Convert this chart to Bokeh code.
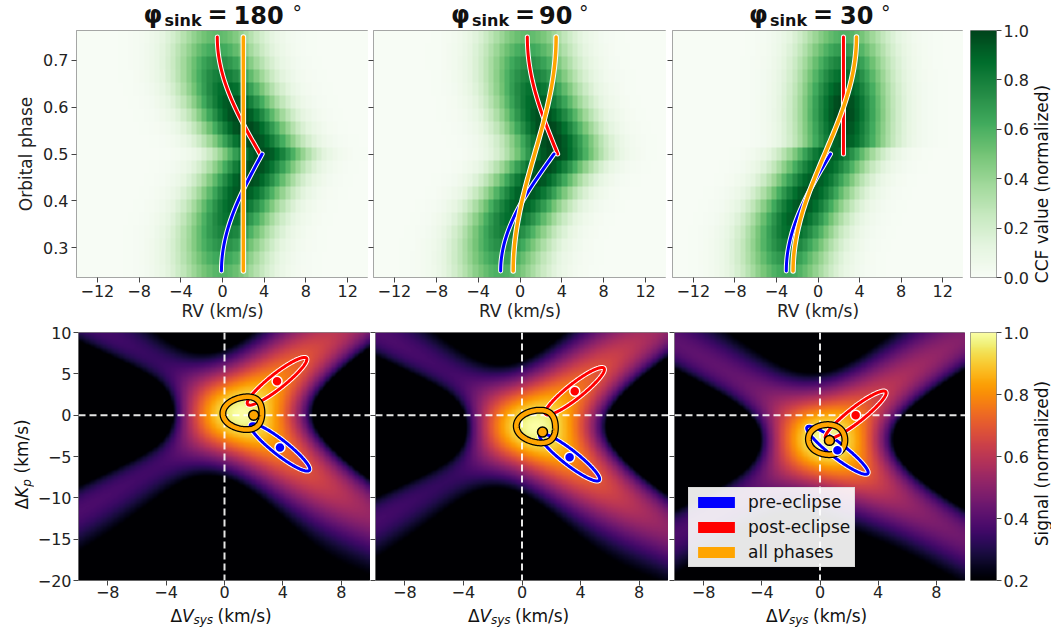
import numpy as np
import contourpy
from bokeh.plotting import figure
from bokeh.layouts import row, column
from bokeh.models import (FixedTicker, CustomJSTickFormatter, LinearColorMapper,
                          Label, Legend, LegendItem, ColumnDataSource, Range1d, Span)
from bokeh.palettes import Inferno256, Greens256
from bokeh.embed import file_html
from bokeh.resources import INLINE

FONT = "DejaVu Sans"

# ---------------- data ----------------
sink_angles = ["180", "90", "30"]
phases = [0.250, 0.278, 0.306, 0.333, 0.361, 0.389, 0.417, 0.444, 0.472, 0.500,
          0.528, 0.556, 0.583, 0.611, 0.639, 0.667, 0.694, 0.722, 0.750]
# best fits (dVsys, dKp) per panel
pre_dv = [3.8, 3.25, 1.2]
pre_dk = [-3.9, -5.1, -4.25]
post_dv = [3.6, 3.6, 2.45]
post_dk = [4.1, 2.9, 0.0]
all_dv = [2.0, 1.4, 0.65]
all_dk = [0.0, -2.05, -3.05]
# CCF row strength per phase
ccf_amp = [
    [0.58, 0.65, 0.73, 0.80, 0.86, 0.91, 0.95, 0.98, 0.98, 0.97, 0.98, 1.00, 0.99, 0.95, 0.89, 0.82, 0.74, 0.64, 0.55],
    [0.60, 0.67, 0.75, 0.82, 0.88, 0.92, 0.95, 0.97, 0.98, 0.99, 1.00, 1.00, 0.97, 0.92, 0.87, 0.80, 0.73, 0.64, 0.55],
    [0.64, 0.72, 0.81, 0.88, 0.93, 0.95, 0.95, 0.93, 0.92, 0.92, 0.94, 0.97, 1.00, 0.99, 0.94, 0.87, 0.79, 0.69, 0.59],
]
ccf_sigma = 3.0          # CCF line width (km/s)
wing_sigma = 9.0         # width of the subtracted broad continuum (km/s)
rv_step = 0.5
map_gamma = 0.5
level_all = 0.92
level_sub = 0.965

top_xticks = [-12, -8, -4, 0, 4, 8, 12]
top_yticks = [0.3, 0.4, 0.5, 0.6, 0.7]
bot_xticks = [-8, -4, 0, 4, 8]
bot_yticks = [-20, -15, -10, -5, 0, 5, 10]
ccf_ticks = [0.0, 0.2, 0.4, 0.6, 0.8, 1.0]
sig_ticks = [0.2, 0.4, 0.6, 0.8, 1.0]

# ---------------- layout geometry (pixels) ----------------
LEFT_W = 963
FW = [292, 293, 291]
BL_TOP = [76, 5, 6]
BL_BOT0 = 42
YLAB_W = 34
TITLE_H, XLAB_H = 30, 23
TOP_H, BOT_H = 247, 248
TOP_BB, BOT_BT, BOT_BB = 48, 7, 24
CB_L, CB_W, CB_R, CBLAB_W = 5, 26, 36, 21
CENTERS = [222.0, 519.5, 817.5]
MID = 0.346   # (ascent - descent) / 2 for DejaVu Sans, in em

INT_FMT = "return (tick < 0 ? '\u2212' : '') + Math.abs(tick).toFixed(0);"
DEC_FMT = "return (tick < 0 ? '\u2212' : '') + Math.abs(tick).toFixed(1);"
NO_FMT = "return '';"

ph = np.array(phases)
s = np.sin(2 * np.pi * ph)
rv = np.arange(-14 + rv_step / 2, 14, rv_step)
dvg = np.linspace(-10, 10, 241)
dkg = np.linspace(-20, 10, 301)

greens = list(Greens256)[::-1]
ccf_mapper = LinearColorMapper(palette=greens, low=0.0, high=1.0)
sig_mapper = LinearColorMapper(palette=list(Inferno256), low=0.2, high=1.0)

BLUE, RED, ORANGE = "#0000ff", "#ff0000", "#ffa500"


def make_fig(xr, yr, fw, fh, bl, br, bt, bb, **kw):
    p = figure(x_range=Range1d(*xr), y_range=Range1d(*yr), frame_width=fw, frame_height=fh,
               min_border_left=bl, min_border_right=br, min_border_top=bt, min_border_bottom=bb,
               toolbar_location=None, output_backend="svg", tools="", **kw)
    p.grid.visible = False
    p.outline_line_color = "#8a8a8a"
    p.outline_line_width = 1
    p.border_fill_color = "white"
    return p


def strip(w, h):
    p = figure(x_range=Range1d(0, w), y_range=Range1d(0, h), frame_width=w, frame_height=h,
               min_border=0, min_border_left=0, min_border_right=0, min_border_top=0,
               min_border_bottom=0, x_axis_location=None, y_axis_location=None,
               toolbar_location=None, output_backend="svg", tools="")
    p.grid.visible = False
    p.outline_line_color = None
    p.border_fill_color = "white"
    p.background_fill_color = "white"
    return p


def style_axis(ax, ticks, code, standoff=2):
    ax.ticker = FixedTicker(ticks=ticks)
    ax.formatter = CustomJSTickFormatter(code=code)
    ax.major_tick_out = 5
    ax.major_tick_in = 0
    ax.minor_tick_out = 0
    ax.minor_tick_in = 0
    ax.axis_line_color = None
    ax.major_tick_line_color = "#444444"
    ax.major_label_text_font = FONT
    ax.major_label_text_font_size = "16px"
    ax.major_label_text_color = "#222222"
    ax.major_label_standoff = standoff
    ax.axis_label_text_font = FONT
    ax.axis_label_text_font_size = "17px"
    ax.axis_label_text_font_style = "normal"
    ax.axis_label_text_color = "#222222"


def lab(p, x, y, text, size=17, style="normal", vertical=False, align="left"):
    """(x, y) is the start (or centre) of the text on its baseline, in strip pixels."""
    shift = MID * size
    if vertical:
        x, angle = x - shift, np.pi / 2
    else:
        y, angle = y + shift, 0.0
    p.add_layout(Label(x=x, y=y, text=text, text_font=FONT, text_font_size=f"{size}px",
                       text_font_style=style, text_color="#111111", angle=angle,
                       text_align=align, text_baseline="middle"))


def outlined_line(p, x, y, color, w, edge, ew):
    p.line(x, y, line_color=edge, line_width=ew, line_cap="round", line_join="round")
    p.line(x, y, line_color=color, line_width=w, line_cap="round", line_join="round")


def contour_lines(z, level):
    gen = contourpy.contour_generator(dvg, dkg, z)
    lines = gen.lines(level)
    return [l[:, 0].tolist() for l in lines], [l[:, 1].tolist() for l in lines]


# ---------------- title strip ----------------
title_strip = strip(LEFT_W, TITLE_H)
digit_x = [11, 19, 22]
deg_x = [70, 59, 63]
for k in range(3):
    c = CENTERS[k]
    off = 0 if k == 0 else 10
    lab(title_strip, c - 79 + off, 7, "\u03c6", 24, "bold")
    lab(title_strip, c - 58 + off, 4, "sink", 16, "bold")
    lab(title_strip, c - 15 + off, 7, "=", 24, "bold")
    lab(title_strip, c + digit_x[k], 7, sink_angles[k], 24, "bold")
    lab(title_strip, c + deg_x[k], 11, "\u00b0", 19, "normal")

# ---------------- x-label strip ----------------
xlab_strip = strip(LEFT_W, XLAB_H)
for k in range(3):
    c = CENTERS[k]
    lab(xlab_strip, c - 52, 6, "\u0394")
    lab(xlab_strip, c - 40.5, 6, "V", style="italic")
    lab(xlab_strip, c - 29, 3.5, "sys", 12, "italic")
    lab(xlab_strip, c - 5, 6, "(km/s)")

# ---------------- y-label strip (bottom row) ----------------
ylab_strip = strip(YLAB_W, BOT_BT + BOT_H + BOT_BB)
yb = BOT_BB
lab(ylab_strip, 27, yb + 78, "\u0394", vertical=True)
lab(ylab_strip, 27, yb + 89.6, "K", style="italic", vertical=True)
lab(ylab_strip, 31, yb + 100.8, "p", 12, "italic", vertical=True)
lab(ylab_strip, 27, yb + 114, "(km/s)", vertical=True)

top_figs, bot_figs = [], []
beta = ccf_sigma / wing_sigma
for k in range(3):
    amp = np.array(ccf_amp[k])
    centre = np.where(ph <= 0.5, pre_dv[k] + pre_dk[k] * s, post_dv[k] + post_dk[k] * s)
    ccf = amp[:, None] * np.exp(-(rv[None, :] - centre[:, None]) ** 2 / (2 * ccf_sigma ** 2))
    ccf = ccf / ccf.max()

    # ---------- top: CCF vs phase ----------
    dph = phases[1] - phases[0]
    p = make_fig((-14, 14), (phases[0] - dph / 2, phases[-1] + dph / 2), FW[k], TOP_H,
                 BL_TOP[k], 0, 0, TOP_BB)
    img = np.repeat(np.repeat(ccf, 8, axis=0), 8, axis=1)
    r = p.image(image=[img], x=-14, y=phases[0] - dph / 2, dw=28, dh=phases[-1] - phases[0] + dph,
                color_mapper=ccf_mapper)
    r.level = "image"
    style_axis(p.xaxis[0], top_xticks, INT_FMT)
    p.xaxis[0].axis_label = "RV (km/s)"
    p.xaxis[0].axis_label_standoff = 1
    style_axis(p.yaxis[0], top_yticks, DEC_FMT if k == 0 else NO_FMT, 3 if k == 0 else 0)
    if k == 0:
        p.yaxis[0].axis_label = "Orbital phase"
        p.yaxis[0].axis_label_standoff = 4

    ph_pre = np.linspace(phases[0], 0.5, 60)
    ph_post = np.linspace(0.5, phases[-1], 60)
    ph_all = np.linspace(phases[0], phases[-1], 120)
    outlined_line(p, post_dv[k] + post_dk[k] * np.sin(2 * np.pi * ph_post), ph_post, RED, 3, "white", 5)
    outlined_line(p, pre_dv[k] + pre_dk[k] * np.sin(2 * np.pi * ph_pre), ph_pre, BLUE, 3, "white", 5)
    outlined_line(p, all_dv[k] + all_dk[k] * np.sin(2 * np.pi * ph_all), ph_all, ORANGE, 3.5, "white", 5.5)
    top_figs.append(p)

    # ---------- bottom: signal map ----------
    V = dvg[None, :, None] + dkg[:, None, None] * s[None, None, :]
    X = V - centre[None, None, :]
    G = np.exp(-X ** 2 / (2 * ccf_sigma ** 2))
    contrib = amp[None, None, :] * G
    hp = amp[None, None, :] * (G - beta * np.exp(-X ** 2 / (2 * wing_sigma ** 2)))
    S_hp = hp.sum(-1)
    S_hp = np.clip(S_hp / S_hp.max(), 0, 1)
    S_all = contrib.sum(-1)
    S_all = S_all / S_all.max()
    S_pre = contrib[:, :, ph < 0.5].sum(-1)
    S_pre = S_pre / S_pre.max()
    S_post = contrib[:, :, ph > 0.5].sum(-1)
    S_post = S_post / S_post.max()
    shown = S_hp ** map_gamma

    q = make_fig((-10, 10), (-20, 10), FW[k], BOT_H, BL_BOT0 if k == 0 else BL_TOP[k], 0,
                 BOT_BT, BOT_BB)
    r = q.image(image=[shown], x=-10, y=-20, dw=20, dh=30, color_mapper=sig_mapper)
    r.level = "image"
    style_axis(q.xaxis[0], bot_xticks, INT_FMT, 0)
    style_axis(q.yaxis[0], bot_yticks, INT_FMT if k == 0 else NO_FMT, 2 if k == 0 else 0)
    for dim in ("width", "height"):
        q.add_layout(Span(location=0, dimension=dim, line_color="white", line_alpha=0.9,
                          line_width=2, line_dash="7 4", level="underlay"))

    for z, col in ((S_pre, BLUE), (S_post, RED)):
        xs, ys = contour_lines(z, level_sub)
        q.multi_line(xs, ys, line_color="white", line_width=5)
        q.multi_line(xs, ys, line_color=col, line_width=3)
    xs, ys = contour_lines(S_all, level_all)
    q.multi_line(xs, ys, line_color="black", line_width=7)
    q.multi_line(xs, ys, line_color=ORANGE, line_width=4.5)

    q.scatter([pre_dv[k]], [pre_dk[k]], size=10, fill_color=BLUE, line_color="white", line_width=1.5)
    q.scatter([post_dv[k]], [post_dk[k]], size=10, fill_color=RED, line_color="white", line_width=1.5)
    q.scatter([all_dv[k]], [all_dk[k]], size=10, fill_color=ORANGE, line_color="black", line_width=1.5)

    if k == 2:
        hidden = ColumnDataSource(dict(left=[np.nan], right=[np.nan], top=[np.nan], bottom=[np.nan]))
        items = []
        for name, col in (("pre-eclipse", BLUE), ("post-eclipse", RED), ("all phases", ORANGE)):
            rr = q.quad(left="left", right="right", top="top", bottom="bottom", source=hidden,
                        fill_color=col, line_color=None)
            items.append(LegendItem(label=name, renderers=[rr]))
        leg = Legend(items=items, location=(14, 13), glyph_width=46, glyph_height=14,
                     label_text_font=FONT, label_text_font_size="17px", label_text_color="#111111",
                     label_standoff=9, padding=4, spacing=5, margin=0,
                     border_line_color="#cccccc", background_fill_color="white",
                     background_fill_alpha=0.9)
        q.add_layout(leg)
    bot_figs.append(q)


def make_cbar(mapper, lo, hi, fh, bt, bb, ticks):
    p = make_fig((0, 1), (lo, hi), CB_W, fh, CB_L, CB_R, bt, bb,
                 x_axis_location=None, y_axis_location="right")
    grad = np.linspace(lo, hi, 256).reshape(256, 1)
    r = p.image(image=[grad], x=0, y=lo, dw=1, dh=hi - lo, color_mapper=mapper)
    r.level = "image"
    style_axis(p.yaxis[0], ticks, DEC_FMT, 2)
    return p


def cbar_label(fh, bt, bb, text):
    p = strip(CBLAB_W, bt + fh + bb)
    lab(p, 15, bb + fh / 2.0, text, vertical=True, align="center")
    return p


cb_top = make_cbar(ccf_mapper, 0.0, 1.0, TOP_H, TITLE_H, TOP_BB, ccf_ticks)
cb_bot = make_cbar(sig_mapper, 0.2, 1.0, BOT_H, BOT_BT, BOT_BB, sig_ticks)
cl_top = cbar_label(TOP_H, TITLE_H, TOP_BB, "CCF value (normalized)")
cl_bot = cbar_label(BOT_H, BOT_BT, BOT_BB, "Signal (normalized)")

left_block = column(
    title_strip,
    row(*top_figs, spacing=0),
    row(ylab_strip, *bot_figs, spacing=0),
    xlab_strip,
    spacing=0,
)
right_block = column(row(cb_top, cl_top, spacing=0), row(cb_bot, cl_bot, spacing=0), spacing=0)
layout = row(left_block, right_block, spacing=0)
open("out.html", "w").write(file_html(layout, INLINE))
